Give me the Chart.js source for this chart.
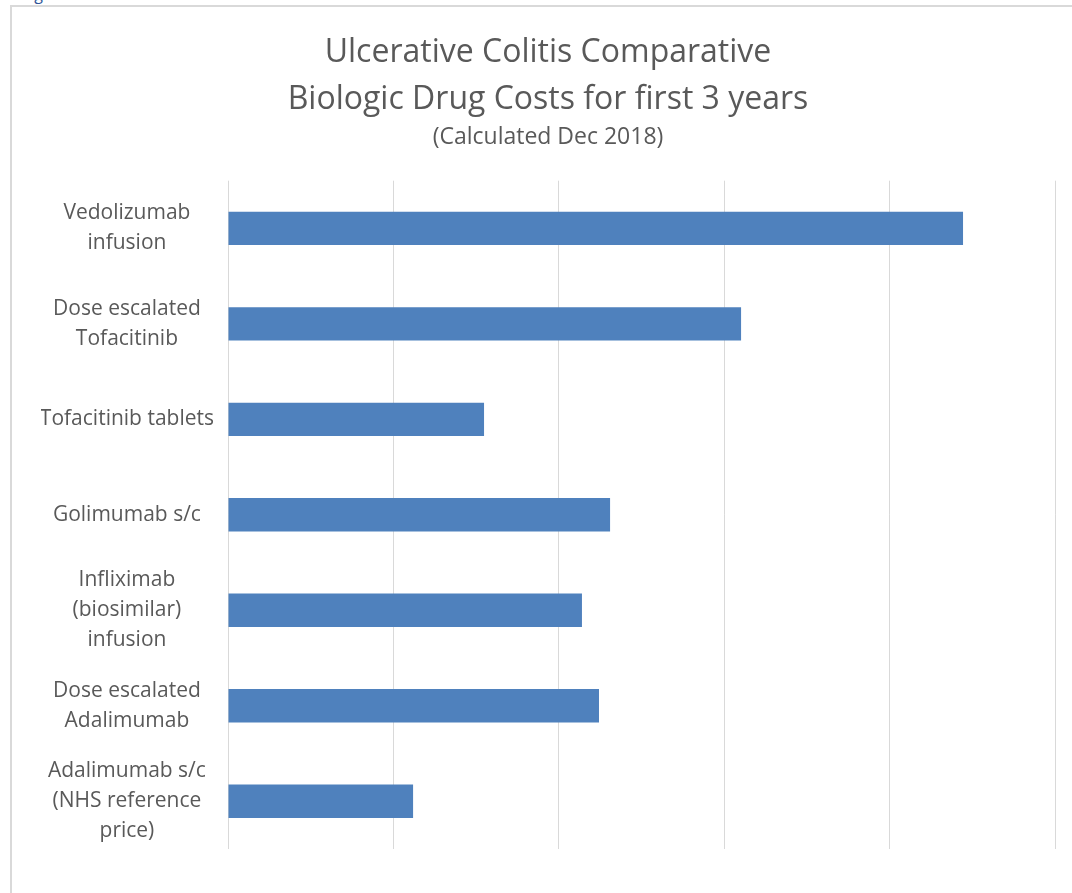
<!DOCTYPE html>
<html>
<head>
<meta charset="utf-8">
<title>Ulcerative Colitis Comparative Biologic Drug Costs</title>
<script src="https://cdn.jsdelivr.net/npm/chart.js@4"></script>
<style>
    html, body { margin: 0; padding: 0; background: #fff; overflow: hidden; }
    body { width: 1072px; height: 893px; position: relative; }
    #frag { position: absolute; left: 22px; top: -14px; font: 16px "Open Sans", sans-serif; color: #2e5597; line-height: 16px; }
    #frame { position: absolute; left: 10px; top: 5px; width: 1090px; height: 900px;
             border-top: 2px solid #d9d9d9; border-left: 2px solid #d9d9d9; }
    #wrap { position: absolute; left: 0; top: 0; width: 1076px; height: 886px; }
</style>
</head>
<body>
<div id="frag">Fig</div>
<div id="frame">
    <div id="wrap"><canvas id="grafik"></canvas></div>
</div>
<script>
// data
const obat = [
    ["Vedolizumab", "infusion"],
    ["Dose escalated", "Tofacitinib"],
    "Tofacitinib tablets",
    "Golimumab s/c",
    ["Infliximab", "(biosimilar)", "infusion"],
    ["Dose escalated", "Adalimumab"],
    ["Adalimumab s/c", "(NHS reference", "price)"]
];
const biaya = [44440, 31020, 15480, 23100, 21400, 22430, 11190];
const xTicks = [0, 10000, 20000, 30000, 40000, 50000];

const judul = ["Ulcerative Colitis Comparative", "Biologic Drug Costs for first 3 years"];
const subJudul = "(Calculated Dec 2018)";

const abu = "#595959";
const huruf = "'Open Sans', sans-serif";

const ctx = document.getElementById("grafik").getContext("2d");

new Chart(ctx, {
    type: "bar",
    data: {
        labels: obat,
        datasets: [{
            data: biaya,
            backgroundColor: "#4f81bd",
            barPercentage: 0.35,
            categoryPercentage: 1
        }]
    },
    options: {
        indexAxis: "y",
        responsive: true,
        maintainAspectRatio: false,
        animation: false,
        layout: { padding: { top: 22, right: 33, bottom: 40, left: 29 } },
        plugins: {
            legend: { display: false },
            tooltip: { enabled: false },
            title: {
                display: true,
                text: judul,
                color: abu,
                font: { family: huruf, size: 32, weight: "normal", lineHeight: 1.47 },
                padding: { top: 0, bottom: 0 }
            },
            subtitle: {
                display: true,
                text: subJudul,
                color: abu,
                font: { family: huruf, size: 23, weight: "normal", lineHeight: 1.2 },
                padding: { top: 1, bottom: 29 }
            }
        },
        scales: {
            x: {
                min: 0,
                max: 50000,
                afterBuildTicks: (axis) => { axis.ticks = xTicks.map(v => ({ value: v })); },
                ticks: { display: false },
                grid: { color: "#d9d9d9", lineWidth: 1, drawTicks: false },
                border: { display: false }
            },
            y: {
                afterFit: (axis) => { axis.width = 187; },
                ticks: {
                    color: abu,
                    font: { family: huruf, size: 21, lineHeight: 1.43 },
                    crossAlign: "center",
                    padding: 14
                },
                grid: { display: false, drawTicks: false },
                border: { display: false }
            }
        }
    }
});
</script>
</body>
</html>
